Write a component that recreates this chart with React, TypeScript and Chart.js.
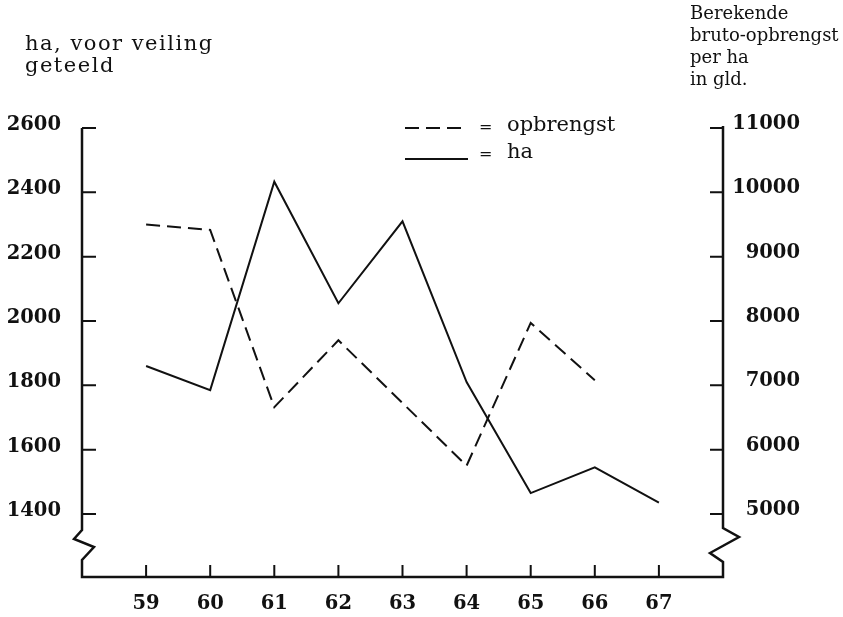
import React, { useEffect, useRef } from 'react';
import { Chart, registerables } from 'chart.js';

Chart.register(...registerables);

// ---- data ----
const years = [59, 60, 61, 62, 63, 64, 65, 66, 67];
const haValues = [1860, 1785, 2433, 2055, 2310, 1810, 1465, 1545, 1435];
const opbrengstValues: (number | null)[] = [9500, 9415, 6660, 7700, 6725, 5750, 7970, 7080, null];
const leftTicks = [1400, 1600, 1800, 2000, 2200, 2400, 2600];
const rightTicks = [5000, 6000, 7000, 8000, 9000, 10000, 11000];
const leftTitle = ['ha, voor veiling', 'geteeld'];
const rightTitle = ['Berekende', 'bruto-opbrengst', 'per ha', 'in gld.'];
const legendLabels = ['opbrengst', 'ha'];

const FAMILY = "'DejaVu Serif', serif";
const INK = '#111';
const DASH = [14, 7];

const decorPlugin = {
  id: 'decor',
  afterDraw(chart: any) {
    const { ctx, chartArea } = chart;
    const { left, right, top, bottom } = chartArea;
    const yL = chart.scales.y;
    const yR = chart.scales.y1;
    const x = chart.scales.x;
    ctx.save();
    ctx.strokeStyle = INK;
    ctx.lineCap = 'butt';
    ctx.lineJoin = 'miter';
    ctx.setLineDash([]);

    // axes with breaks
    ctx.lineWidth = 2.5;
    ctx.beginPath();
    ctx.moveTo(left, top);
    ctx.lineTo(left, bottom - 47);
    ctx.lineTo(left - 8, bottom - 38);
    ctx.lineTo(left + 12, bottom - 30);
    ctx.lineTo(left, bottom - 17);
    ctx.lineTo(left, bottom);
    ctx.lineTo(right, bottom);
    ctx.lineTo(right, bottom - 15);
    ctx.lineTo(right - 13, bottom - 24);
    ctx.lineTo(right + 16, bottom - 40);
    ctx.lineTo(right, bottom - 49);
    ctx.lineTo(right, top - 2);
    ctx.stroke();

    // inward ticks
    ctx.lineWidth = 2;
    ctx.beginPath();
    leftTicks.forEach((v) => {
      const py = yL.getPixelForValue(v);
      ctx.moveTo(left, py);
      ctx.lineTo(left + 14, py);
    });
    rightTicks.forEach((v) => {
      const py = yR.getPixelForValue(v);
      ctx.moveTo(right, py);
      ctx.lineTo(right - 13, py);
    });
    years.forEach((v) => {
      const px = x.getPixelForValue(v);
      ctx.moveTo(px, bottom);
      ctx.lineTo(px, bottom - 12);
    });
    ctx.stroke();

    // titles
    ctx.fillStyle = INK;
    ctx.textAlign = 'left';
    ctx.textBaseline = 'middle';
    ctx.font = `21px ${FAMILY}`;
    try { (ctx as any).letterSpacing = '1.5px'; } catch (e) { /* ignore */ }
    leftTitle.forEach((t, i) => ctx.fillText(t, 25, 45 + i * 22));
    try { (ctx as any).letterSpacing = '0px'; } catch (e) { /* ignore */ }
    ctx.font = `18px ${FAMILY}`;
    rightTitle.forEach((t, i) => ctx.fillText(t, 690, 14 + i * 22));

    // legend
    const lx0 = 405;
    const lx1 = 468;
    ctx.lineWidth = 2;
    ctx.setLineDash(DASH);
    ctx.beginPath();
    ctx.moveTo(lx0, 128);
    ctx.lineTo(lx1, 128);
    ctx.stroke();
    ctx.setLineDash([]);
    ctx.beginPath();
    ctx.moveTo(lx0, 159);
    ctx.lineTo(lx1, 159);
    ctx.stroke();
    ctx.font = `16px ${FAMILY}`;
    ctx.fillText('=', 479, 128);
    ctx.fillText('=', 479, 155);
    ctx.font = `21px ${FAMILY}`;
    ctx.fillText(legendLabels[0], 507, 126);
    ctx.fillText(legendLabels[1], 507, 153);
    ctx.restore();
  },
};

export default function App() {
  const ref = useRef<HTMLCanvasElement>(null);
  useEffect(() => {
    if (!ref.current) return;
    const tickFont = { family: FAMILY, size: 19.5, weight: 'bold' as const };
    const chart = new Chart(ref.current, {
      type: 'line',
      data: {
        datasets: [
          {
            label: 'opbrengst',
            data: years.map((y, i) => ({ x: y, y: opbrengstValues[i] })) as any,
            yAxisID: 'y1',
            borderColor: INK,
            borderWidth: 2,
            borderDash: DASH,
            pointRadius: 0,
            fill: false,
            tension: 0,
          },
          {
            label: 'ha',
            data: years.map((y, i) => ({ x: y, y: haValues[i] })),
            yAxisID: 'y',
            borderColor: INK,
            borderWidth: 2,
            pointRadius: 0,
            fill: false,
            tension: 0,
          },
        ],
      },
      options: {
        animation: false,
        responsive: false,
        devicePixelRatio: 1,
        layout: { padding: { left: 0, right: 43, top: 128, bottom: 0 } },
        plugins: { legend: { display: false }, tooltip: { enabled: false }, title: { display: false } },
        scales: {
          x: {
            type: 'linear',
            min: 58,
            max: 68,
            grid: { display: false, drawTicks: false },
            border: { display: false },
            afterBuildTicks: (s: any) => {
              s.ticks = years.map((v) => ({ value: v }));
            },
            afterFit: (s: any) => {
              s.height = 40;
            },
            ticks: {
              font: tickFont,
              color: INK,
              padding: 15,
              maxRotation: 0,
              autoSkip: false,
              callback: (v: any) => String(v),
            },
          },
          y: {
            type: 'linear',
            position: 'left',
            min: 1204,
            max: 2600,
            grid: { display: false, drawTicks: false },
            border: { display: false },
            afterBuildTicks: (s: any) => {
              s.ticks = leftTicks.map((v) => ({ value: v }));
            },
            afterFit: (s: any) => {
              s.width = 82;
            },
            ticks: { font: tickFont, color: INK, padding: 21, labelOffset: -3, callback: (v: any) => String(v) },
          },
          y1: {
            type: 'linear',
            position: 'right',
            min: 4020,
            max: 11000,
            grid: { display: false, drawTicks: false },
            border: { display: false },
            afterBuildTicks: (s: any) => {
              s.ticks = rightTicks.map((v) => ({ value: v }));
            },
            afterFit: (s: any) => {
              s.width = 77;
            },
            ticks: {
              font: tickFont,
              color: INK,
              padding: 20,
              crossAlign: 'far',
              labelOffset: -4,
              callback: (v: any) => String(v),
            },
          },
        },
      },
      plugins: [decorPlugin],
    });
    return () => chart.destroy();
  }, []);
  return (
    <div style={{ position: 'fixed', left: 0, top: 0, width: 843, height: 617, background: '#fff' }}>
      <canvas ref={ref} width={843} height={617} style={{ width: 843, height: 617, display: 'block' }} />
    </div>
  );
}
